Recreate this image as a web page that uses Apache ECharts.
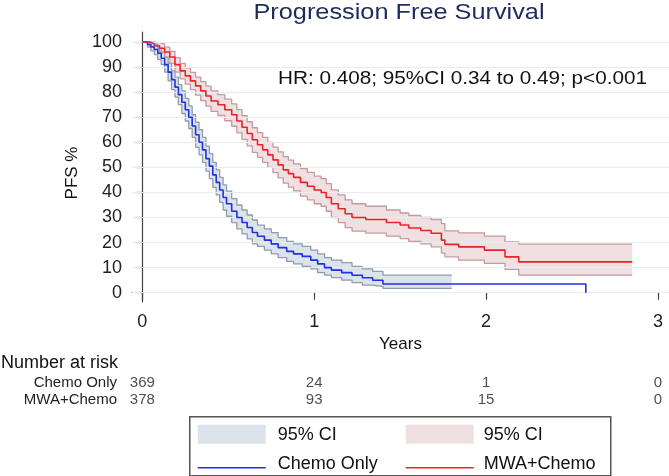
<!DOCTYPE html>
<html>
<head>
<meta charset="utf-8">
<title>Progression Free Survival</title>
<script src="https://cdn.jsdelivr.net/npm/echarts@6.0.0/dist/echarts.min.js"></script>
<style>
  html, body { margin: 0; padding: 0; background: #fff; }
  #main { width: 669px; height: 476px; }
</style>
</head>
<body>
<div id="main"></div>
<script>
// Chemo Only: KM steps (years, PFS %)
const chemoTime = [0, 0.03, 0.05, 0.07, 0.09, 0.11, 0.13, 0.15, 0.17, 0.19,
  0.21, 0.23, 0.25, 0.27, 0.29, 0.31, 0.33, 0.35, 0.37, 0.39,
  0.41, 0.43, 0.45, 0.47, 0.49, 0.52, 0.55, 0.58, 0.61, 0.64,
  0.67, 0.71, 0.75, 0.79, 0.84, 0.88, 0.93, 0.98, 1.02, 1.06,
  1.10, 1.16, 1.22, 1.28, 1.34, 1.40, 2.58];
const chemoSurv = [100, 99, 98, 97, 95.5, 93.5, 91, 88, 85, 82,
  79, 76, 73, 70, 66.5, 63, 60, 57, 53.5, 50.5,
  47, 44, 41, 38, 35.5, 32.5, 30, 28, 26, 24,
  22.5, 21, 19.5, 18, 16.5, 15.5, 14.5, 13, 11.5, 10,
  9, 8, 7, 6, 5, 3.5, 0];
// Chemo Only: 95% CI (band stops at 1.8 years)
const chemoCiTime = [0, 0.03, 0.05, 0.07, 0.09, 0.11, 0.13, 0.15, 0.17, 0.19,
  0.21, 0.23, 0.25, 0.27, 0.29, 0.31, 0.33, 0.35, 0.37, 0.39,
  0.41, 0.43, 0.45, 0.47, 0.49, 0.52, 0.55, 0.58, 0.61, 0.64,
  0.67, 0.71, 0.75, 0.79, 0.84, 0.88, 0.93, 0.98, 1.02, 1.06,
  1.10, 1.16, 1.22, 1.28, 1.34, 1.40, 1.80];
const chemoHigh = [100, 100, 99.5, 99, 97.5, 96, 94, 91.5, 88.5, 86,
  83, 80.5, 77.5, 74.5, 71, 68, 65, 62, 58.5, 55.5,
  52, 49, 46, 43, 40.5, 37.5, 35, 33, 31, 29,
  27, 25.5, 24, 22, 20.5, 19.5, 18.5, 17, 15.5, 14,
  13, 12, 10.5, 9.5, 8.5, 7, 7];
const chemoLow = [100, 98, 96.5, 95, 93, 91, 88, 84.5, 81, 78,
  75, 71.5, 68.5, 65.5, 62, 58, 55, 52, 48.5, 45.5,
  42, 39, 36, 33, 30.5, 28, 25.5, 23.5, 21.5, 19.5,
  18.5, 17, 15.5, 14, 12.5, 11.5, 10.5, 9.5, 8, 7,
  6, 5, 4, 3, 2.5, 1.7, 1.7];

// MWA+Chemo: KM steps and 95% CI
const mwaTime = [0, 0.04, 0.07, 0.10, 0.13, 0.16, 0.19, 0.22, 0.25, 0.28,
  0.31, 0.34, 0.37, 0.40, 0.44, 0.48, 0.52, 0.55, 0.58, 0.61,
  0.64, 0.67, 0.70, 0.73, 0.76, 0.79, 0.82, 0.85, 0.88, 0.92,
  0.96, 1.00, 1.04, 1.07, 1.10, 1.14, 1.18, 1.22, 1.30, 1.42,
  1.50, 1.55, 1.62, 1.68, 1.74, 1.76, 1.84, 1.99, 2.11, 2.19, 2.85];
const mwaSurv = [100, 99.3, 98.5, 97.5, 96, 94, 91, 88.5, 86.5, 84.5,
  82.5, 80.5, 78.5, 76.5, 75, 73, 71, 68.5, 66, 63.5,
  61, 59, 57, 55, 53, 51, 49, 47.5, 46, 44,
  42.5, 41, 40, 38, 35.5, 33.5, 31.5, 30, 29.2, 28,
  27, 25.8, 24.8, 23.7, 21, 19.3, 18.3, 17, 14.3, 12.3, 12.3];
const mwaHigh = [100, 100, 99.8, 99.2, 98, 96.3, 93.8, 91.5, 89.7, 87.9,
  86, 84.2, 82.4, 80.5, 79, 77.2, 75.3, 73, 70.6, 68.2,
  65.8, 63.9, 62, 60, 58.1, 56.2, 54.3, 52.9, 51.4, 49.5,
  48, 46.5, 45.5, 43.5, 41, 39, 37, 35.5, 34.5, 33,
  31.8, 30.8, 30, 29.2, 27.6, 24.7, 23.9, 22.6, 20.3, 19.4, 19.4];
const mwaLow = [100, 98.3, 97, 95.7, 94, 91.5, 88, 85.3, 83.2, 81,
  78.8, 76.6, 74.4, 72.3, 70.7, 68.6, 66.4, 63.8, 61.2, 58.6,
  56, 54, 52, 50, 47.9, 45.8, 43.7, 42.1, 40.6, 38.5,
  37, 35.5, 34.5, 32.5, 30, 28, 26, 24.6, 23.8, 22.6,
  21.6, 20.5, 19.5, 18.3, 15.8, 14.3, 13, 11.7, 9.3, 7, 7];

// Number at risk
const riskYears = [0, 1, 2, 3];
const riskChemo = [369, 24, 1, 0];
const riskMwa = [378, 93, 15, 0];

const yTicks = [0, 10, 20, 30, 40, 50, 60, 70, 80, 90, 100];
const xTicks = [0, 1, 2, 3];

const FONT = '"Liberation Sans", Arial, Helvetica, sans-serif';
const BLUE = '#1f30e6', RED = '#e8232b';
const BLUE_BAND = '#dde3ea', BLUE_EDGE = '#8e9cad';
const RED_BAND = '#f0e0e1', RED_EDGE = '#c39a9d';

function zip(xs, ys) {
  return xs.map((x, i) => [x, ys[i]]);
}
// step-after outline of a KM curve
function stepPoints(time, vals) {
  const pts = [];
  for (let i = 0; i < time.length; i++) {
    if (i > 0) pts.push([time[i], vals[i - 1]]);
    pts.push([time[i], vals[i]]);
  }
  return pts;
}
function bandSeries(name, time, low, high, fill, edge) {
  return [{
    name: name + ' band', type: 'custom', data: [[time[0], high[0]]], z: 1, silent: true, clip: true,
    renderItem: function (params, api) {
      const up = stepPoints(time, high).map(p => api.coord(p));
      const dn = stepPoints(time, low).map(p => api.coord(p)).reverse();
      return { type: 'polygon', shape: { points: up.concat(dn) }, style: { fill: fill } };
    }
  }, {
    name: name + ' low', type: 'line', step: 'end', data: zip(time, low),
    symbol: 'none', z: 2, silent: true, lineStyle: { color: edge, width: 1.3 }
  }, {
    name: name + ' high', type: 'line', step: 'end', data: zip(time, high),
    symbol: 'none', z: 2, silent: true, lineStyle: { color: edge, width: 1.3 }
  }];
}

const riskData = [];
riskYears.forEach((t, i) => {
  riskData.push([t, 'Chemo Only', riskChemo[i]]);
  riskData.push([t, 'MWA+Chemo', riskMwa[i]]);
});

const chart = echarts.init(document.getElementById('main'), null, { renderer: 'canvas' });

const option = {
  animation: false,
  backgroundColor: '#fff',
  textStyle: { fontFamily: FONT },
  grid: [
    { left: 132, right: 0, top: 32, bottom: 174 },
    { left: 132, right: 0, top: 374, height: 34 }
  ],
  xAxis: [{
    type: 'value', gridIndex: 0, min: -0.06, max: 3.064,
    name: 'Years', nameLocation: 'middle', nameGap: 28,
    nameTextStyle: { fontSize: 17, color: '#111', fontFamily: FONT },
    axisLine: { lineStyle: { color: '#444', width: 1.2 } },
    axisTick: { length: 7, customValues: xTicks, lineStyle: { color: '#444', width: 1.2 } },
    axisLabel: { customValues: xTicks, margin: 11, fontSize: 18, color: '#222', fontFamily: FONT },
    splitLine: { show: false }
  }, {
    type: 'value', gridIndex: 1, min: -0.06, max: 3.064, show: false
  }],
  yAxis: [{
    type: 'value', gridIndex: 0, min: -3.7, max: 104,
    axisLine: { show: true, lineStyle: { color: '#444', width: 1.2 } },
    axisTick: { show: true, length: 7, customValues: yTicks, lineStyle: { color: '#444', width: 1.2 } },
    axisLabel: { customValues: yTicks, margin: 10, fontSize: 18, color: '#222', fontFamily: FONT },
    splitLine: { show: false }
  }, {
    type: 'category', gridIndex: 1, data: ['MWA+Chemo', 'Chemo Only'],
    axisLine: { show: false }, axisTick: { show: false }, splitLine: { show: false },
    axisLabel: { interval: 0, margin: 15, fontSize: 15, color: '#222', fontFamily: FONT }
  }],
  series: [
    {
      name: 'grid', type: 'line', data: [], z: 0, silent: true,
      markLine: {
        silent: true, symbol: ['none', 'none'], label: { show: false },
        lineStyle: { color: '#e6edf2', width: 1.2, type: 'solid' },
        data: yTicks.map(v => ({ yAxis: v }))
      }
    },
    ...bandSeries('chemoCi', chemoCiTime, chemoLow, chemoHigh, BLUE_BAND, BLUE_EDGE),
    ...bandSeries('mwaCi', mwaTime, mwaLow, mwaHigh, RED_BAND, RED_EDGE),
    {
      name: 'Chemo Only', type: 'line', step: 'end', data: zip(chemoTime, chemoSurv),
      symbol: 'none', z: 5, silent: true, lineStyle: { color: BLUE, width: 1.6 }
    },
    {
      name: 'MWA+Chemo', type: 'line', step: 'end', data: zip(mwaTime, mwaSurv),
      symbol: 'none', z: 5, silent: true, lineStyle: { color: RED, width: 1.6 }
    },
    {
      name: 'at risk', type: 'scatter', xAxisIndex: 1, yAxisIndex: 1,
      data: riskData, symbolSize: 0, silent: true,
      label: {
        show: true, position: 'inside', fontSize: 15, color: '#222', fontFamily: FONT,
        formatter: p => String(p.value[2])
      }
    }
  ],
  graphic: [
    {
      type: 'text', x: 399, y: 13, scaleX: 1.15, silent: true,
      style: { text: 'Progression Free Survival', fontSize: 22, fill: '#1e2c5b',
        fontFamily: FONT, textAlign: 'center', textVerticalAlign: 'middle' }
    },
    {
      type: 'text', x: 278, y: 79, scaleX: 1.09, silent: true,
      style: { text: 'HR: 0.408; 95%CI 0.34 to 0.49; p<0.001', fontSize: 19, fill: '#111',
        fontFamily: FONT, textAlign: 'left', textVerticalAlign: 'middle' }
    },
    {
      type: 'text', x: 72, y: 173, rotation: Math.PI / 2, silent: true,
      style: { text: 'PFS %', fontSize: 17, fill: '#111', fontFamily: FONT,
        textAlign: 'center', textVerticalAlign: 'middle' }
    },
    {
      type: 'text', x: 1, y: 363, silent: true,
      style: { text: 'Number at risk', fontSize: 18, fill: '#111', fontFamily: FONT,
        textAlign: 'left', textVerticalAlign: 'middle' }
    },
    // legend box
    {
      type: 'group', left: 189, top: 416, silent: true,
      children: [
        { type: 'rect', shape: { x: 0, y: 0, width: 421, height: 59 },
          style: { fill: '#fff', stroke: '#555', lineWidth: 1.5 } },
        { type: 'rect', shape: { x: 8, y: 8, width: 68, height: 19 }, style: { fill: BLUE_BAND } },
        { type: 'rect', shape: { x: 216, y: 8, width: 68, height: 19 }, style: { fill: RED_BAND } },
        { type: 'line', shape: { x1: 8, y1: 51, x2: 76, y2: 51 }, style: { stroke: BLUE, lineWidth: 1.5 } },
        { type: 'line', shape: { x1: 216, y1: 51, x2: 284, y2: 51 }, style: { stroke: RED, lineWidth: 1.5 } },
        { type: 'text', x: 88, y: 18, style: { text: '95% CI', fontSize: 18, fill: '#111',
          fontFamily: FONT, textVerticalAlign: 'middle' } },
        { type: 'text', x: 294, y: 18, style: { text: '95% CI', fontSize: 18, fill: '#111',
          fontFamily: FONT, textVerticalAlign: 'middle' } },
        { type: 'text', x: 88, y: 47, style: { text: 'Chemo Only', fontSize: 18, fill: '#111',
          fontFamily: FONT, textVerticalAlign: 'middle' } },
        { type: 'text', x: 294, y: 47, style: { text: 'MWA+Chemo', fontSize: 18, fill: '#111',
          fontFamily: FONT, textVerticalAlign: 'middle' } }
      ]
    }
  ]
};

chart.setOption(option);
window.onresize = chart.resize;
</script>
</body>
</html>
